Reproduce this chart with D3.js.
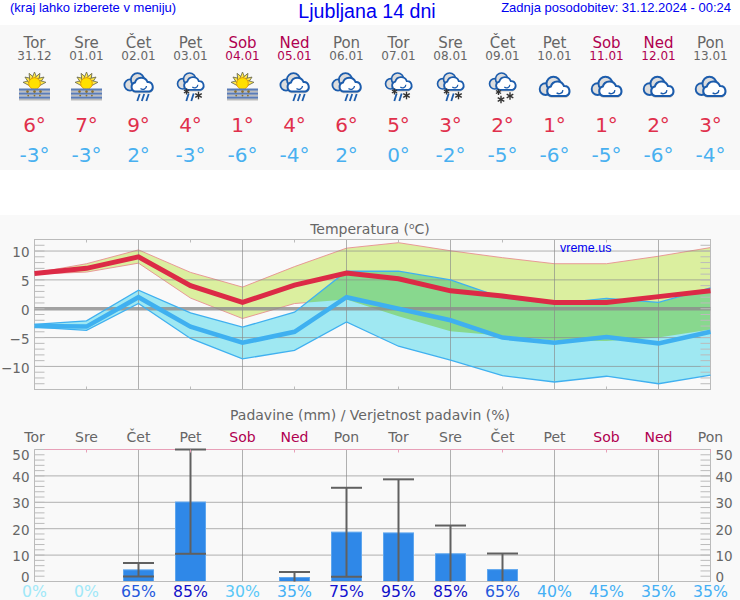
<!DOCTYPE html>
<html><head><meta charset="utf-8">
<script src="https://cdn.jsdelivr.net/npm/d3@7/dist/d3.min.js"></script>
<style>
html,body{margin:0;padding:0;background:#fff}
svg{display:block}
text{font-family:"DejaVu Sans",sans-serif}
.hdr{font-family:"Liberation Sans",Arial,sans-serif;fill:#0000f0}
</style></head><body>
<svg id="c" width="740" height="600"></svg>
<script>
const dayNames=["Tor","Sre","Čet","Pet","Sob","Ned","Pon","Tor","Sre","Čet","Pet","Sob","Ned","Pon"];
const dates=["31.12","01.01","02.01","03.01","04.01","05.01","06.01","07.01","08.01","09.01","10.01","11.01","12.01","13.01"];
const weekend=[0,0,0,0,1,1,0,0,0,0,0,1,1,0];
const icons=["fog","fog","rain","mix","fog","rain","rain","mix","mix","snow","cloud","cloud","cloud","cloud"];
const maxLabels=[6,7,9,4,1,4,6,5,3,2,1,1,2,3];
const minLabels=[-3,-3,2,-3,-6,-4,2,0,-2,-5,-6,-5,-6,-4];
const maxLine=[6.1,7,9,4,1.1,4.1,6.2,5.2,3.1,2.2,1.1,1.1,2.1,3.1];
const maxUpper=[6.2,7.8,10.2,6.3,3.75,7.3,10.5,11.45,10.05,8.85,7.8,7.8,9.1,10.6];
const maxLower=[6,6.35,7.9,1.85,-1.7,0.9,1.6,-1.3,-3.9,-4.7,-5.5,-5.6,-5,-3.6];
const minLine=[-3,-3.1,2,-3.1,-5.9,-4,2,0,-2,-5,-5.9,-4.9,-6,-4];
const minUpper=[-2.7,-2.1,3.2,-0.7,-3.2,-0.6,6.5,6.5,5,1.9,0.9,1.8,1.1,3.6];
const minLower=[-3.2,-3.75,0.9,-5.15,-8.7,-7.2,-2.3,-6.5,-8.9,-11.6,-12.7,-11.7,-13,-11.5];
const rain=[0,0,4.4,30.1,0,1.5,18.7,18.4,10.5,4.5,0,0,0,0];
const rainHigh=[0,0,7,50,0,3.6,35.5,38.7,21.2,10.6,0,0,0,0];
const rainLow=[0,0,1.9,10.5,0,0,1.8,0,0,0,0,0,0,0];
const prob=[0,0,65,85,30,35,75,95,85,65,40,45,35,35];
const tempTicks=[10,5,0,-5,-10];
const rainTicks=[50,40,30,20,10,0];

const svg=d3.select("#c");
const idx=d3.range(14);
const x=d3.scalePoint().domain(idx).range([34.5,710.5]);
const yT=d3.scaleLinear().domain([-14,12]).range([389.5,239.5]);
const yR=d3.scaleLinear().domain([0,50]).range([581.5,449.5]);
const GREY="#666",WK="#b00050";
const dayCol=i=>weekend[i]?WK:GREY;

svg.append("rect").attr("width",740).attr("height",600).attr("fill","#fff");
svg.append("rect").attr("y",25).attr("width",740).attr("height",145).attr("fill","#f8f8f8");
svg.append("rect").attr("y",215).attr("width",740).attr("height",385).attr("fill","#f9f9f9");

// header
svg.append("text").attr("class","hdr").attr("x",10).attr("y",12).attr("font-size",13).text("(kraj lahko izberete v meniju)");
svg.append("text").attr("class","hdr").attr("x",367).attr("y",17.8).attr("text-anchor","middle").attr("font-size",19.6).text("Ljubljana 14 dni");
svg.append("text").attr("class","hdr").attr("x",731).attr("y",12).attr("text-anchor","end").attr("font-size",13).text("Zadnja posodobitev: 31.12.2024 - 00:24");

// forecast strip
const strip=svg.append("g").selectAll("g").data(idx).join("g").attr("transform",i=>`translate(${x(i)},0)`);
strip.append("text").attr("text-anchor","middle").attr("y",48).attr("font-size",15).attr("fill",dayCol).text(i=>dayNames[i]);
strip.append("text").attr("text-anchor","middle").attr("y",60).attr("font-size",12).attr("fill",dayCol).text(i=>dates[i]);
strip.append("text").attr("text-anchor","middle").attr("y",132).attr("font-size",20).attr("fill","#e0304c").text(i=>maxLabels[i]+"°");
strip.append("text").attr("text-anchor","middle").attr("y",162).attr("font-size",20).attr("fill","#48b0f0").text(i=>minLabels[i]+"°");

// icons (glyph shapes drawn in local icon space)
const CB="#1c5cac";
function cloud(g,dy,s){
  const c=g.append("g").attr("transform",`translate(0,${dy}) scale(${s})`);
  const body="M-3,8.5 A4.6,4.6 0 0 1 -3.5,-0.5 A6.6,6.6 0 0 1 9,-1 A4.9,4.9 0 0 1 11,8.5 Z";
  c.append("path").attr("d",body).attr("transform","translate(0,1.8)").attr("fill","#888").attr("opacity",.45);
  c.append("circle").attr("cx",-8.5).attr("cy",2).attr("r",5.6).attr("fill","#ddd").attr("stroke",CB).attr("stroke-width",1.8);
  c.append("circle").attr("cx",-1).attr("cy",-3.2).attr("r",6.6).attr("fill","#ddd").attr("stroke",CB).attr("stroke-width",1.8);
  c.append("path").attr("d",body).attr("fill","#fff").attr("stroke",CB).attr("stroke-width",2);
  c.append("path").attr("d","M2,5.5 A3.6,3.6 0 0 0 8,3").attr("fill","none").attr("stroke",CB).attr("stroke-width",1.3);
}
function star(g,cx,cy,r){
  const s=g.append("g").attr("transform",`translate(${cx},${cy})`).attr("stroke","#333").attr("stroke-width",1.4);
  [0,60,120].forEach(a=>s.append("line").attr("y1",-r).attr("y2",r).attr("transform",`rotate(${a})`));
}
function drops(g,xs,y0,y1){
  xs.forEach(d=>g.append("line").attr("x1",d+1.2).attr("x2",d-1.2).attr("y1",y0).attr("y2",y1).attr("stroke",CB).attr("stroke-width",1.8));
}
const iconG=svg.append("g").selectAll("g").data(idx).join("g").attr("transform",i=>`translate(${x(i)},83)`);
iconG.each(function(i){
  const g=d3.select(this),k=icons[i];
  if(k==="fog"){
    const rays=g.append("g").attr("transform","translate(0,.5)");
    d3.range(7).forEach(n=>{
      const a=-84+n*28;
      rays.append("path").attr("d","M-2.6,-5 L0,-11.5 L2.6,-5 Z").attr("transform",`rotate(${a})`).attr("fill","#ffe84a").attr("stroke","#6a6a50").attr("stroke-width",.8);
    });
    rays.append("circle").attr("r",5.8).attr("fill","#ffe000").attr("stroke","#e8a000").attr("stroke-width",1);
    [6.5,10.5,14.5].forEach(d=>{
      g.append("rect").attr("x",-15.5).attr("y",d+.8).attr("width",31).attr("height",2.2).attr("fill","#bbb");
      g.append("rect").attr("x",-15.5).attr("y",d-1).attr("width",31).attr("height",2.1).attr("fill","#5a7cb8");
    });
    [-7,0,6].forEach(d=>{
      g.append("circle").attr("cx",d).attr("cy",8.6).attr("r",1.3).attr("fill","#8a7030");
      g.append("circle").attr("cx",d*.9).attr("cy",12.6).attr("r",.9).attr("fill","#8a7030");
    });
  } else if(k==="cloud"){
    cloud(g,4,1.05);
  } else if(k==="rain"){
    cloud(g,0,1);
    drops(g,[0,4.5,9],11,18);
  } else if(k==="mix"){
    cloud(g,-1,.92);
    drops(g,[-3,2],10.5,18);
    star(g,-4,8.5,3);
    star(g,8,12.5,3.8);
  } else {
    cloud(g,-1,.92);
    star(g,-4,9,3);
    star(g,-1.5,16.5,3.8);
    star(g,7.5,13,3.8);
  }
});

// temperature panel
svg.append("text").attr("x",370).attr("y",234).attr("text-anchor","middle").attr("font-size",14).attr("fill",GREY)
  .html('Temperatura (<tspan dy="-5" font-size="9">o</tspan><tspan dy="5">C)</tspan>');
const area=(lo,hi)=>d3.area().x(i=>x(i)).y0(i=>yT(lo[i])).y1(i=>yT(hi[i]));
const line=a=>d3.line().x(i=>x(i)).y(i=>yT(a[i]));
const defs=svg.append("defs");
defs.append("clipPath").attr("id","redBand").append("path").attr("d",area(maxLower,maxUpper)(idx));
svg.append("path").attr("d",area(maxLower,maxUpper)(idx)).attr("fill","#dbef9f");
[maxUpper,maxLower].forEach(a=>svg.append("path").attr("d",line(a)(idx)).attr("fill","none").attr("stroke","#e89090").attr("stroke-width",.9));
svg.append("path").attr("d",area(minLower,minUpper)(idx)).attr("fill","#9fe8f2");
svg.append("path").attr("d",area(minLower,minUpper)(idx)).attr("fill","#88d88e").attr("clip-path","url(#redBand)");

const gridT=svg.append("g").attr("stroke","#888").attr("stroke-opacity",.65).attr("stroke-width",1);
tempTicks.filter(d=>d!==0).forEach(d=>gridT.append("line").attr("x1",x(0)).attr("x2",x(13)).attr("y1",yT(d)).attr("y2",yT(d)));
idx.filter(i=>i%2===0&&i>0).forEach(i=>gridT.append("line").attr("x1",x(i)).attr("x2",x(i)).attr("y1",yT.range()[1]).attr("y2",yT.range()[0]));
svg.append("rect").attr("x",x(0)).attr("y",yT.range()[1]).attr("width",x(13)-x(0)).attr("height",yT.range()[0]-yT.range()[1])
  .attr("fill","none").attr("stroke","#bbb");
svg.append("line").attr("x1",x(0)).attr("x2",x(13)).attr("y1",yT(0)).attr("y2",yT(0)).attr("stroke","#8c8c8c").attr("stroke-opacity",.8).attr("stroke-width",3.5);
const minor=svg.append("g").attr("stroke","#bbb");
d3.range(-14,13).forEach(v=>{
  minor.append("line").attr("x1",x(0)).attr("x2",x(0)+10).attr("y1",yT(v)).attr("y2",yT(v));
  minor.append("line").attr("x1",x(13)-10).attr("x2",x(13)).attr("y1",yT(v)).attr("y2",yT(v));
});
idx.filter(i=>i%2===1).forEach(i=>{
  minor.append("line").attr("x1",x(i)).attr("x2",x(i)).attr("y1",yT.range()[0]-3).attr("y2",yT.range()[0]);
  minor.append("line").attr("x1",x(i)).attr("x2",x(i)).attr("y1",yT.range()[1]).attr("y2",yT.range()[1]+3);
});
[[minUpper,"#3fb0f0",1.3],[minLower,"#3fb0f0",1.3],[minLine,"#3fb0f0",4.5],[maxLine,"#dc2a46",5]].forEach(([a,c,w])=>{
  svg.append("path").attr("d",line(a)(idx)).attr("fill","none").attr("stroke",c).attr("stroke-width",w);
});
svg.append("g").attr("transform",`translate(${x(0)},1.5)`).call(d3.axisLeft(yT).tickValues(tempTicks).tickSize(0).tickPadding(5))
  .call(g=>g.select(".domain").remove())
  .call(g=>g.selectAll("text").attr("font-size",13.5).attr("fill",GREY).style("font-family",'"DejaVu Sans"'));
svg.append("text").attr("x",560).attr("y",252).attr("font-size",12.5).attr("fill","#0000f0").style("font-family",'"Liberation Sans"').text("vreme.us");

// rain panel
svg.append("text").attr("x",370).attr("y",420).attr("text-anchor","middle").attr("font-size",14).attr("fill",GREY).text("Padavine (mm) / Verjetnost padavin (%)");
svg.append("g").selectAll("text").data(idx).join("text").attr("x",i=>x(i)).attr("y",442).attr("text-anchor","middle").attr("font-size",14).attr("fill",dayCol).text(i=>dayNames[i]);
const gridR=svg.append("g").attr("stroke","#888").attr("stroke-opacity",.65);
rainTicks.filter(d=>d>0&&d<50).forEach(d=>gridR.append("line").attr("x1",x(0)).attr("x2",x(13)).attr("y1",yR(d)).attr("y2",yR(d)));
idx.filter(i=>i%2===0&&i>0).forEach(i=>gridR.append("line").attr("x1",x(i)).attr("x2",x(i)).attr("y1",yR(50)).attr("y2",yR(0)));
svg.append("g").selectAll("rect").data(idx.filter(i=>rain[i]>0)).join("rect")
  .attr("x",i=>x(i)-15).attr("width",30).attr("y",i=>yR(rain[i])).attr("height",i=>yR(0)-yR(rain[i])).attr("fill","#2f88e8").attr("stroke","#5ea6ee").attr("stroke-width",1);
svg.append("line").attr("x1",x(0)).attr("x2",x(13)).attr("y1",yR(0)).attr("y2",yR(0)).attr("stroke","#bbb");
svg.append("line").attr("x1",x(0)).attr("x2",x(13)).attr("y1",yR(50)).attr("y2",yR(50)).attr("stroke","#e8a0b8");
const err=svg.append("g").attr("stroke","#606060").attr("stroke-width",2);
idx.filter(i=>rainHigh[i]>0).forEach(i=>{
  err.append("line").attr("x1",x(i)).attr("x2",x(i)).attr("y1",yR(rainLow[i])).attr("y2",yR(rainHigh[i]));
  err.append("line").attr("x1",x(i)-15.5).attr("x2",x(i)+15.5).attr("y1",yR(rainHigh[i])).attr("y2",yR(rainHigh[i]));
  if(rainLow[i]>0) err.append("line").attr("x1",x(i)-15.5).attr("x2",x(i)+15.5).attr("y1",yR(rainLow[i])).attr("y2",yR(rainLow[i]));
});
const minorR=svg.append("g").attr("stroke","#bbb");
d3.range(0,51,2).forEach(v=>{
  minorR.append("line").attr("x1",x(0)).attr("x2",x(0)+10).attr("y1",yR(v)).attr("y2",yR(v));
  minorR.append("line").attr("x1",x(13)-10).attr("x2",x(13)).attr("y1",yR(v)).attr("y2",yR(v));
});
minorR.append("line").attr("x1",x(0)).attr("x2",x(0)).attr("y1",yR(50)).attr("y2",yR(0));
minorR.append("line").attr("x1",x(13)).attr("x2",x(13)).attr("y1",yR(50)).attr("y2",yR(0));
idx.filter(i=>i%2===1).forEach(i=>svg.append("line").attr("x1",x(i)).attr("x2",x(i)).attr("y1",yR(50)).attr("y2",yR(50)+3).attr("stroke","#e8a0b8"));
const labelShift=v=>v===50?4.5:v===0?-5.5:0;
[[x(0)-5,"end"],[x(13)+5,"start"]].forEach(([px,anc])=>{
  svg.append("g").selectAll("text").data(rainTicks).join("text").attr("x",px).attr("y",v=>yR(v)+6+labelShift(v))
    .attr("text-anchor",anc).attr("font-size",13.5).attr("fill",GREY).text(v=>v);
});
const probColor=d3.scaleThreshold().domain([10,32,50,70,80]).range(["#a0e8f8","#58c8f8","#45b0f5","#2458dc","#1414d0","#1010c8"]);
svg.append("g").selectAll("text").data(idx).join("text").attr("x",i=>x(i)).attr("y",597).attr("text-anchor","middle").attr("font-size",15.7)
  .attr("fill",i=>probColor(prob[i])).text(i=>prob[i]+"%");
</script></body></html>
